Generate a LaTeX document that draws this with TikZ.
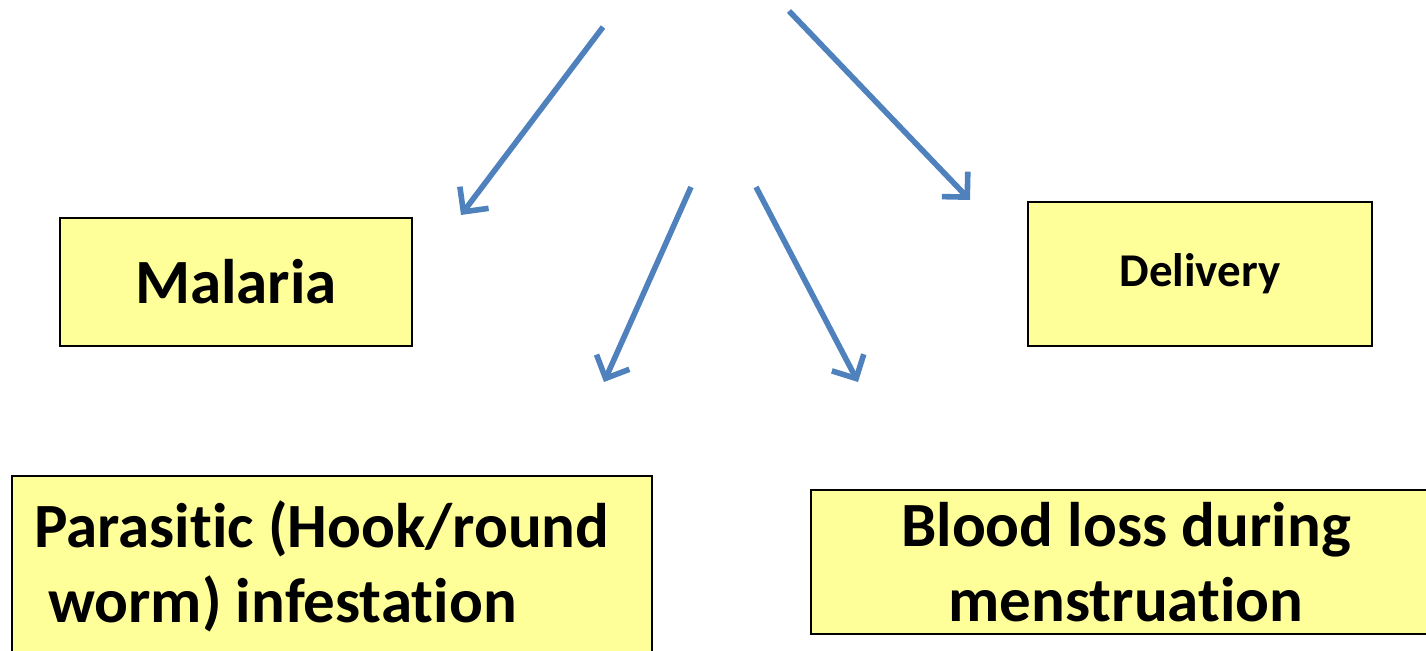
\documentclass[tikz,border=0pt]{standalone}
\usepackage{fontspec}
\setmainfont{Carlito}[RawFeature=-liga]
\usepackage{tikz}
\usetikzlibrary{arrows.meta}

\definecolor{arrowblue}{HTML}{4F81BD}
\definecolor{boxyellow}{HTML}{FFFF99}

\begin{document}
\begin{tikzpicture}[x=0.5pt, y=-0.5pt,
    causebox/.style={draw=black, line width=1.1pt, fill=boxyellow, inner sep=0pt,
        font=\bfseries\fontsize{31.5}{37.5}\selectfont},
    causearrow/.style={draw=arrowblue, line width=2.8pt,
        -{Straight Barb[length=9pt, width=18pt]}}]
    \useasboundingbox (0,0) rectangle (1426,650);
    % boxes
    \node[causebox, minimum width=176pt, minimum height=64pt] (malaria) at (236,282) {Malaria};
    \node[causebox, minimum width=172pt, minimum height=72pt,
        font=\bfseries\fontsize{23.5}{27}\selectfont] (delivery) at (1200,274) {Delivery};
    \node[causebox, minimum width=320pt, minimum height=90pt, text width=298pt, align=flush left]
        (parasitic) at (332,566) {Parasitic (Hook/round\\\ worm) infestation};
    \node[causebox, minimum width=315pt, minimum height=72pt, align=center] (bloodloss) at (1126,562)
        {Blood loss during\\menstruation};
    % arrow ends
    \coordinate (topL) at (603,27);
    \coordinate (tipMalaria) at (461,215);
    \coordinate (topR) at (789,11);
    \coordinate (tipDelivery) at (970,200);
    \coordinate (midL) at (691,187);
    \coordinate (tipParasitic) at (604,382);
    \coordinate (midR) at (756,187);
    \coordinate (tipBlood) at (858,382);
    \draw[causearrow] (topL) -- (tipMalaria);
    \draw[causearrow] (topR) -- (tipDelivery);
    \draw[causearrow] (midL) -- (tipParasitic);
    \draw[causearrow] (midR) -- (tipBlood);
\end{tikzpicture}
\end{document}
